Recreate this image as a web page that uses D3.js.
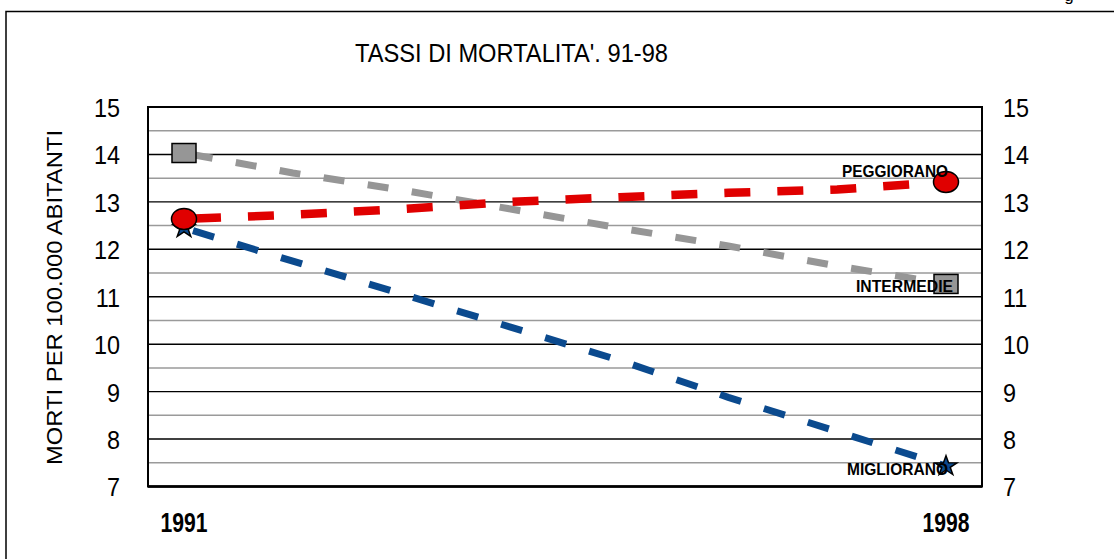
<!DOCTYPE html>
<html><head><meta charset="utf-8">
<script src="https://cdn.jsdelivr.net/npm/d3@7"></script>
<style>body{margin:0;background:#fff;} svg{display:block;} text{font-family:"Liberation Sans Narrow","Arial Narrow","Liberation Sans",Arial,sans-serif;}</style>
</head><body>
<svg id="c" width="1114" height="559"></svg>
<script>
const years = [1991, 1992, 1993, 1994, 1995, 1996, 1997, 1998];
const peggiorano = [12.64, 12.73, 12.85, 13.0, 13.1, 13.19, 13.26, 13.42];
const intermedie = [14.03, 13.61, 13.25, 12.85, 12.45, 12.07, 11.65, 11.27];
const migliorano = [12.45, 11.75, 11.06, 10.36, 9.66, 8.88, 8.16, 7.43];
const yTicks = [7, 8, 9, 10, 11, 12, 13, 14, 15];
const yMinor = [7.5, 8.5, 9.5, 10.5, 11.5, 12.5, 13.5, 14.5];
const xLabels = ["1991", "1998"];
const title = "TASSI DI MORTALITA'. 91-98";
const yTitle = "MORTI PER 100.000 ABITANTI";

const svg = d3.select("#c");
const L = 148, R = 982, T = 107, B = 486.5;
const x = d3.scaleLinear().domain([1991, 1998]).range([184, 946]);
const y = d3.scaleLinear().domain([7, 15]).range([B, T]);

// page header remnant and outer frame
svg.append("text").attr("x", 1069).attr("y", 1).attr("text-anchor", "middle")
  .attr("font-size", 17).attr("font-family", "Liberation Sans, Arial, sans-serif").text("g");
svg.append("rect").attr("x", 6).attr("y", 11.5).attr("width", 1200).attr("height", 600)
  .attr("fill", "none").attr("stroke", "#000").attr("stroke-width", 1.5);

// title
svg.append("text").attr("x", 355).attr("y", 62).attr("font-size", 25)
  .attr("textLength", 313).attr("lengthAdjust", "spacingAndGlyphs").text(title);

// gridlines
svg.append("g").selectAll("line").data(yMinor).join("line")
  .attr("x1", L).attr("x2", R).attr("y1", d => y(d)).attr("y2", d => y(d))
  .attr("stroke", "#9a9a9a").attr("stroke-width", 1.5);
svg.append("g").selectAll("line").data(yTicks).join("line")
  .attr("x1", L).attr("x2", R).attr("y1", d => y(d)).attr("y2", d => y(d))
  .attr("stroke", "#000").attr("stroke-width", 1.4);
svg.append("rect").attr("x", L).attr("y", T).attr("width", R - L).attr("height", B - T)
  .attr("fill", "none").attr("stroke", "#000").attr("stroke-width", 2);
svg.append("line").attr("x1", L).attr("x2", R).attr("y1", B).attr("y2", B).attr("stroke", "#000").attr("stroke-width", 2.5);

// axes labels (using d3 axes, styled)
const axL = svg.append("g").attr("transform", `translate(${L},0)`)
  .call(d3.axisLeft(y).tickValues(yTicks).tickSize(0).tickPadding(28).tickFormat(d3.format("d")));
const axR = svg.append("g").attr("transform", `translate(${R},0)`)
  .call(d3.axisRight(y).tickValues(yTicks).tickSize(0).tickPadding(21).tickFormat(d3.format("d")));
[axL, axR].forEach(a => {
  a.select(".domain").remove();
  a.selectAll("text").attr("font-size", 26).attr("fill", "#000")
    .attr("font-family", "Liberation Sans Narrow, Arial Narrow, Liberation Sans, Arial, sans-serif")
    .attr("dy", "0.36em")
    .each(function() {
      const w = this.getComputedTextLength();
      d3.select(this).attr("textLength", w * 0.9).attr("lengthAdjust", "spacingAndGlyphs");
    });
});

// y title
svg.append("text").attr("transform", "translate(62,297.5) rotate(-90)")
  .attr("text-anchor", "middle").attr("font-size", 22.5)
  .attr("textLength", 335).attr("lengthAdjust", "spacingAndGlyphs").text(yTitle);

// x labels
svg.append("g").selectAll("text").data(xLabels).join("text")
  .attr("x", d => x(+d)).attr("y", 532).attr("text-anchor", "middle")
  .attr("font-size", 27).attr("font-weight", "bold")
  .attr("textLength", 47).attr("lengthAdjust", "spacingAndGlyphs").text(d => d);

// lines
const line = d3.line().x((d, i) => x(years[i])).y(d => y(d));
const series = [
  {v: migliorano, c: "#0b4a8e", w: 7, dash: "22,24", off: 36.6},
  {v: intermedie, c: "#969696", w: 7, dash: "21,23.6", off: 36.6},
  {v: peggiorano, c: "#e00000", w: 8.5, dash: "26,27", off: 42},
];
svg.append("g").selectAll("path").data(series).join("path")
  .attr("d", d => line(d.v)).attr("fill", "none").attr("stroke", d => d.c)
  .attr("stroke-width", d => d.w).attr("stroke-dasharray", d => d.dash)
  .attr("stroke-dashoffset", d => d.off);

// markers
const ends = [0, 7];
const star = d3.symbol().type(d3.symbolStar).size(150);
svg.append("g").selectAll("path").data(ends).join("path")
  .attr("transform", i => `translate(${x(years[i])},${y(migliorano[i])}) scale(1,0.9)`)
  .attr("d", star).attr("fill", "#0b4a8e").attr("stroke", "#000").attr("stroke-width", 1.5);
svg.append("g").selectAll("rect").data(ends).join("rect")
  .attr("x", i => x(years[i]) - 12).attr("y", i => y(intermedie[i]) - 9.5)
  .attr("width", 24).attr("height", 19)
  .attr("fill", "#969696").attr("stroke", "#000").attr("stroke-width", 1.5);
svg.append("g").selectAll("ellipse").data(ends).join("ellipse")
  .attr("cx", i => x(years[i])).attr("cy", i => y(peggiorano[i]))
  .attr("rx", 12.5).attr("ry", 10.5)
  .attr("fill", "#e00000").attr("stroke", "#000").attr("stroke-width", 1.5);

// series labels
const labels = [
  {t: "PEGGIORANO", x: 842, y: 177, w: 106},
  {t: "INTERMEDIE", x: 856, y: 292, w: 97},
  {t: "MIGLIORANO", x: 847, y: 475, w: 101},
];
svg.append("g").selectAll("text").data(labels).join("text")
  .attr("x", d => d.x).attr("y", d => d.y).attr("font-size", 16.5).attr("font-weight", "bold")
  .attr("textLength", d => d.w).attr("lengthAdjust", "spacingAndGlyphs").text(d => d.t);
</script>
</body></html>
